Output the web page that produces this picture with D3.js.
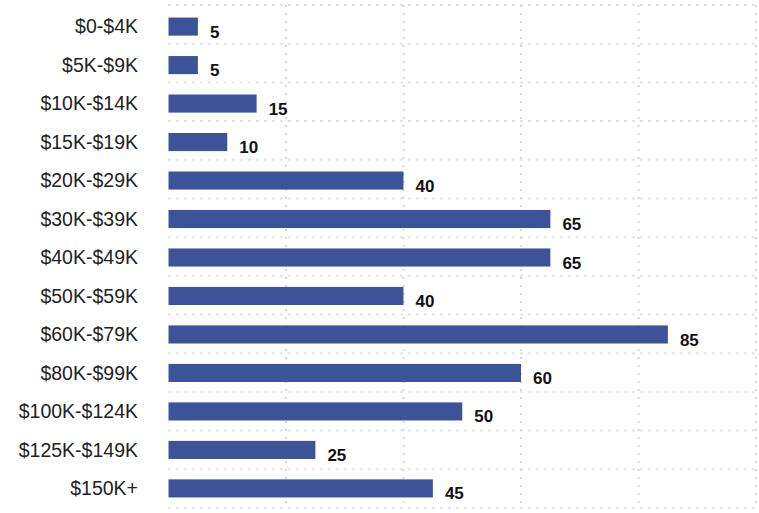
<!DOCTYPE html>
<html>
<head>
<meta charset="utf-8">
<script src="https://cdn.jsdelivr.net/npm/d3@7"></script>
<style>
  body { margin: 0; background: #fff; }
  svg { display: block; }
</style>
</head>
<body>
<div id="chart"></div>
<script>
const categories = ["$0-$4K", "$5K-$9K", "$10K-$14K", "$15K-$19K", "$20K-$29K", "$30K-$39K",
  "$40K-$49K", "$50K-$59K", "$60K-$79K", "$80K-$99K", "$100K-$124K", "$125K-$149K", "$150K+"];
const values = [5, 5, 15, 10, 40, 65, 65, 40, 85, 60, 50, 25, 45];
const xTicks = [0, 20, 40, 60, 80, 100];

(function() {
  const width = 759, height = 513;
  const left = 168.5, right = 756, top = 5, bottom = 508;

  const x = d3.scaleLinear().domain([0, 100]).range([left, right]);
  const y = d3.scaleBand().domain(categories).range([top, bottom]).paddingInner(0.53).paddingOuter(0.3);

  const svg = d3.select("#chart").append("svg")
    .attr("width", width)
    .attr("height", height);

  const grid = svg.append("g")
    .attr("stroke", "#d9d9d9")
    .attr("stroke-width", 2)
    .attr("stroke-dasharray", "2,6");

  // horizontal grid at band edges
  const step = (bottom - top) / categories.length;
  grid.selectAll("line.h")
    .data(d3.range(categories.length + 1))
    .join("line")
    .attr("class", "h")
    .attr("x1", left).attr("x2", width)
    .attr("y1", i => top + i * step).attr("y2", i => top + i * step);

  grid.selectAll("line.v")
    .data(xTicks.slice(1))
    .join("line")
    .attr("class", "v")
    .attr("x1", d => x(d)).attr("x2", d => x(d))
    .attr("y1", top).attr("y2", bottom);

  svg.append("g")
    .selectAll("rect")
    .data(values)
    .join("rect")
    .attr("x", x(0))
    .attr("y", (d, i) => y(categories[i]) + 1)
    .attr("width", d => x(d) - x(0))
    .attr("height", y.bandwidth())
    .attr("fill", "#3c5399");

  svg.append("g")
    .selectAll("text")
    .data(values)
    .join("text")
    .attr("x", d => x(d) + 12)
    .attr("y", (d, i) => y(categories[i]) + y.bandwidth() + 3)
    .attr("font-family", "Liberation Sans, Arial, sans-serif")
    .attr("font-size", 17)
    .attr("font-weight", "bold")
    .attr("fill", "#111")
    .text(d => d);

  svg.append("g")
    .selectAll("text")
    .data(categories)
    .join("text")
    .attr("x", 138)
    .attr("y", d => y(d) + 1 + y.bandwidth() / 2)
    .attr("dy", "0.35em")
    .attr("text-anchor", "end")
    .attr("font-family", "Liberation Sans, Arial, sans-serif")
    .attr("font-size", 19.5)
    .attr("fill", "#222")
    .text(d => d);
}());
</script>
</body>
</html>
